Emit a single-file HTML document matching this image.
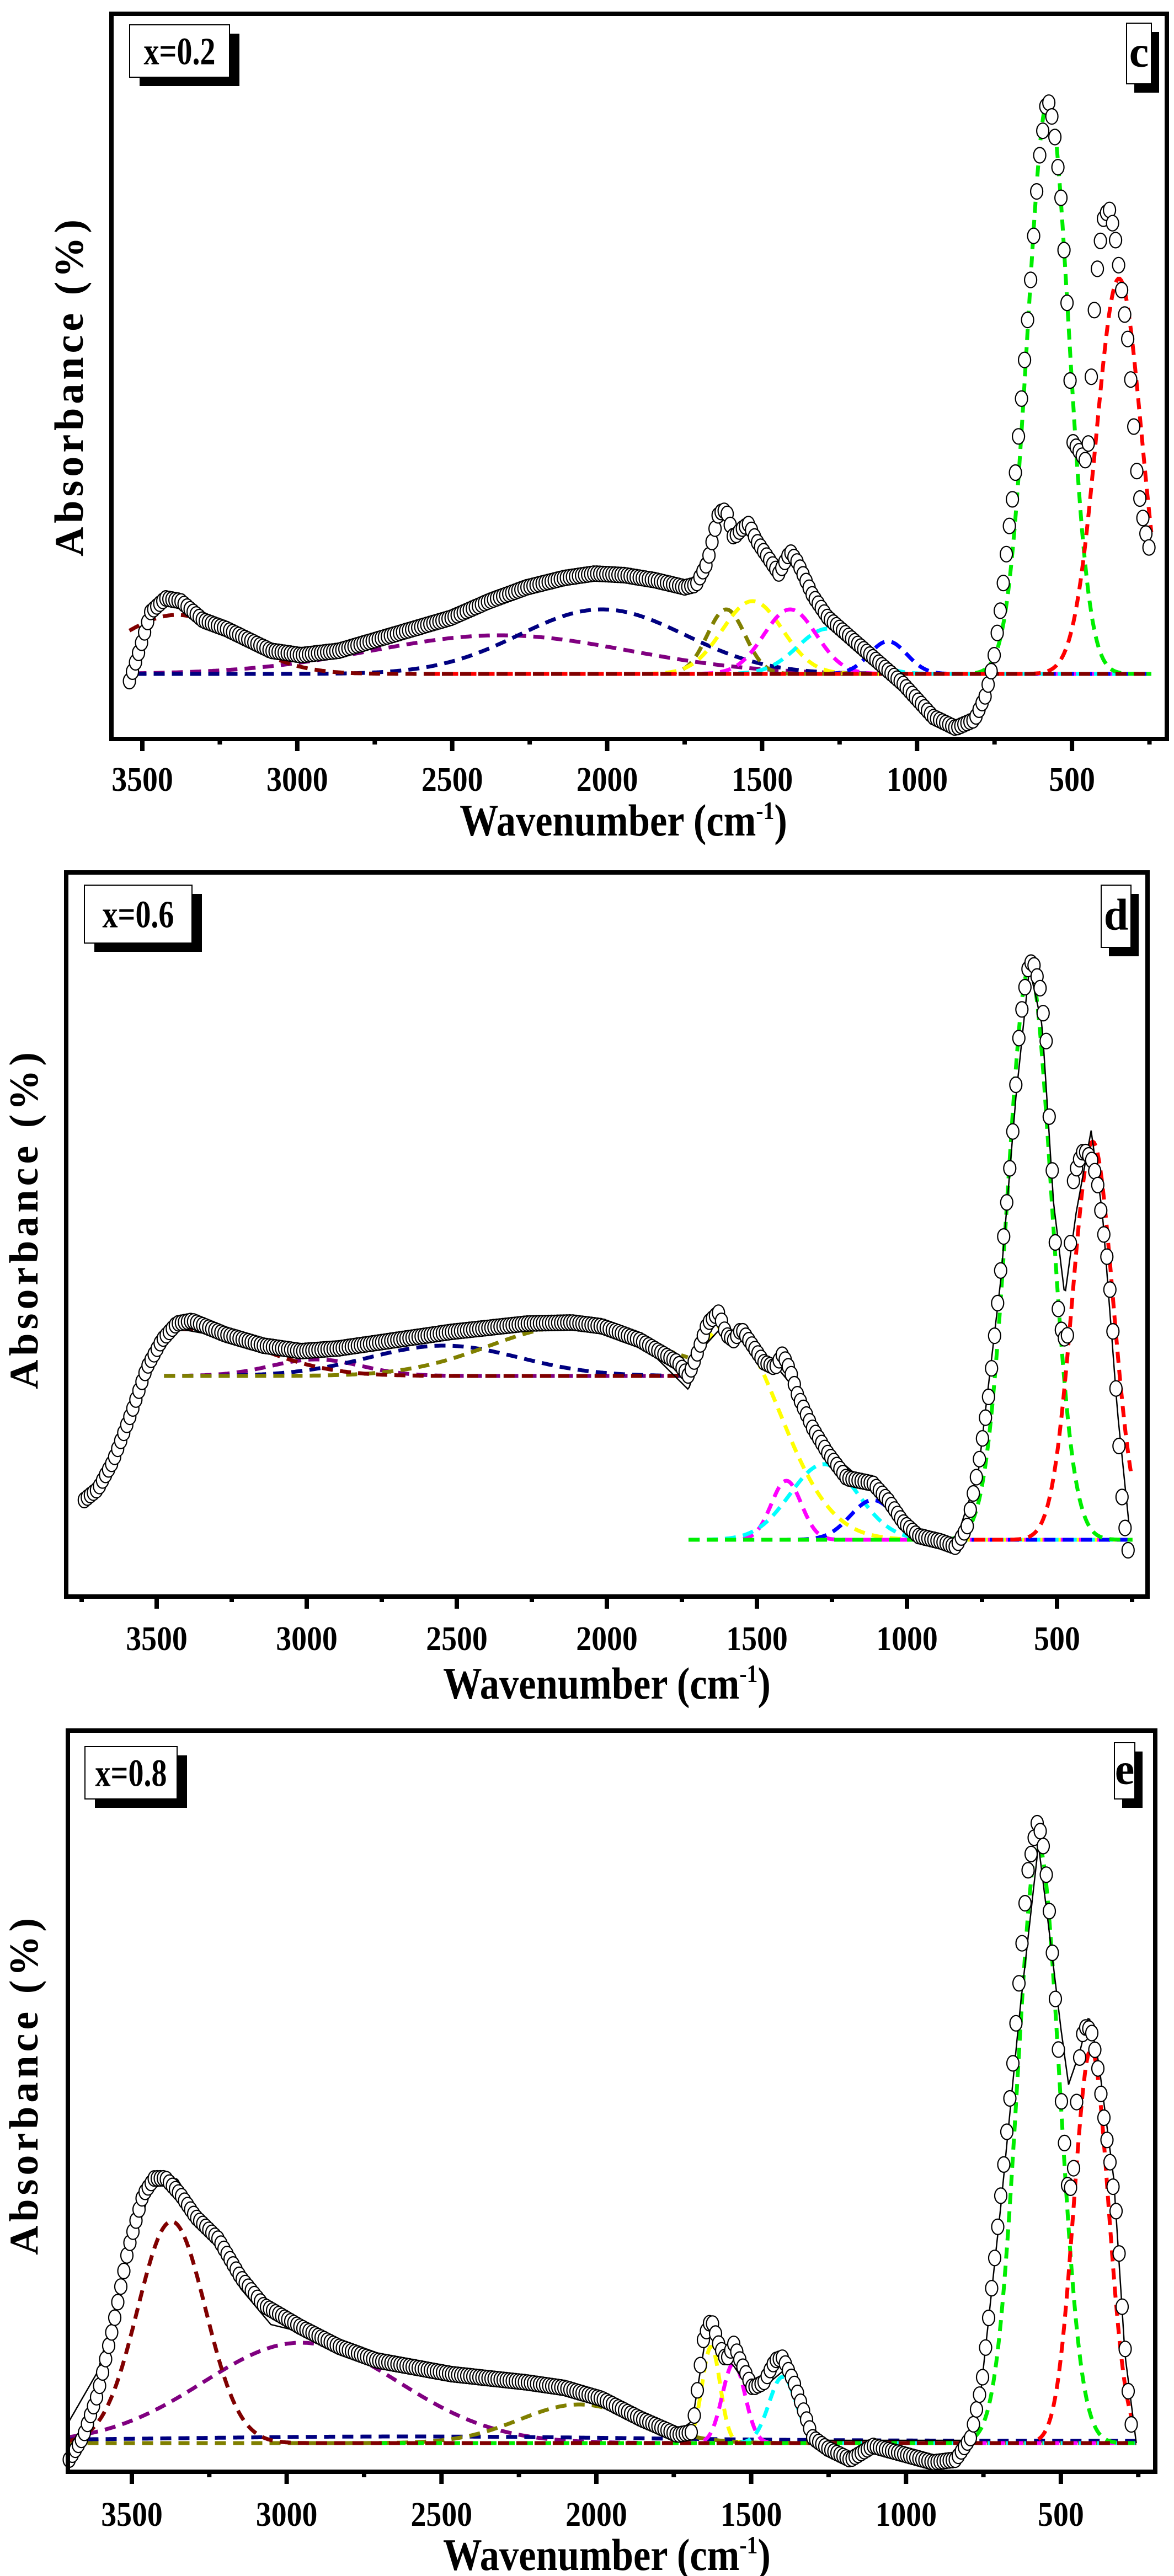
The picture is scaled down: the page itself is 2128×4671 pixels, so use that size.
<!DOCTYPE html>
<html><head><meta charset="utf-8"><style>
html,body{margin:0;padding:0;background:#fff}
svg{display:block}
text{font-family:"Liberation Serif",serif;font-weight:bold}
</style></head><body>
<svg id="s" width="2128" height="4671" viewBox="0 0 2128 4671" xmlns="http://www.w3.org/2000/svg">
<rect width="2128" height="4671" fill="#fff"/>
</svg>
<script>
var S=document.getElementById('s'),NS='http://www.w3.org/2000/svg';
function el(t,a,txt){var e=document.createElementNS(NS,t);for(var k in a)e.setAttribute(k,a[k]);if(txt!=null)e.textContent=txt;S.appendChild(e);return e;}
var KX=1.364;
function interp(pts,x){if(x<=pts[0][0])return pts[0][1];for(var i=1;i<pts.length;i++){if(x<=pts[i][0]){var a=pts[i-1],b=pts[i];var t=(x-a[0])/(b[0]-a[0]);return a[1]+t*(b[1]-a[1]);}}return pts[pts.length-1][1];}
function panel(P){
 var oy=P.oy;
 function X(z){return z*KX;} function Y(z){return z+oy;}
 P.comps.forEach(function(c){
  var d='';for(var zx=c.from;zx<=c.to;zx+=2){var zy=c.base-(c.base-c.peak)*Math.exp(-Math.pow(zx-c.c,2)/(2*c.s*c.s));d+=(d?'L':'M')+X(zx).toFixed(1)+' '+Y(zy).toFixed(1);}
  el('path',{d:d,fill:'none',stroke:c.col,'stroke-width':7,'stroke-dasharray':'20 13'});
 });
 if(P.fit){var d='';var pts=P.fit;for(var zx=pts[0][0];zx<=pts[pts.length-1][0];zx+=2){d+=(d?'L':'M')+X(zx).toFixed(1)+' '+Y(interp(pts,zx)).toFixed(1);}
  el('path',{d:d,fill:'none',stroke:'#000','stroke-width':2.5});}
 var pts=P.data;
 var x0=X(pts[0][0]),x1=X(pts[pts.length-1][0]);
 for(var x=x0;x<=x1;x+=5.5){var y=Y(interp(pts,x/KX));
  el('ellipse',{cx:x.toFixed(1),cy:y.toFixed(1),rx:11,ry:14,fill:'#fff',stroke:'#000','stroke-width':2.2});}
 el('rect',{x:P.fx0,y:P.fy0,width:P.fx1-P.fx0,height:P.fy1-P.fy0,fill:'none',stroke:'#000','stroke-width':8});
 for(var w=3750;w>=250;w-=250){var x=P.x0+(3500-w)*P.k;if(x<P.fx0+5||x>P.fx1-5)continue;var maj=(w%500==0);
  el('line',{x1:x,y1:P.fy1,x2:x,y2:P.fy1+(maj?22:10),stroke:'#000','stroke-width':8});
  if(maj)el('text',{x:x,y:P.ty,'text-anchor':'middle','font-size':62,transform:'translate('+x+' 0) scale(0.9 1) translate('+(-x)+' 0)'},w);}
 var t=el('text',{x:P.xlx,y:P.xly,'text-anchor':'middle','font-size':82,transform:'translate('+P.xlx+' 0) scale(0.86 1) translate('+(-P.xlx)+' 0)'},'Wavenumber (cm');
 var ts=document.createElementNS(NS,'tspan');ts.setAttribute('dy',-30);ts.setAttribute('font-size',46);ts.textContent='-1';t.appendChild(ts);
 var ts2=document.createElementNS(NS,'tspan');ts2.setAttribute('dy',30);ts2.textContent=')';t.appendChild(ts2);
 el('text',{x:0,y:0,'text-anchor':'middle','font-size':74,'letter-spacing':7,transform:'translate('+P.ylx+' '+P.yly+') rotate(-90)'},'Absorbance (%)');
 var L=P.leg;el('rect',{x:L[0]+18,y:L[1]+16,width:L[2]-L[0],height:L[3]-L[1],fill:'#000'});
 el('rect',{x:L[0],y:L[1],width:L[2]-L[0],height:L[3]-L[1],fill:'#fff',stroke:'#000','stroke-width':2});
 var cx=(L[0]+L[2])/2;
 el('text',{x:cx,y:(L[1]+L[3])/2+24,'text-anchor':'middle','font-size':70,transform:'translate('+cx+' 0) scale(0.8 1) translate('+(-cx)+' 0)'},P.lab);
 var M=P.mk;el('rect',{x:M[0]+14,y:M[1]+16,width:M[2]-M[0],height:M[3]-M[1],fill:'#000'});
 el('rect',{x:M[0],y:M[1],width:M[2]-M[0],height:M[3]-M[1],fill:'#fff',stroke:'#000','stroke-width':2});
 el('text',{x:(M[0]+M[2])/2,y:(M[1]+M[3])/2+24,'text-anchor':'middle','font-size':80},P.letter);
}
var MR='#800000',PU='#800080',NV='#000080',OL='#808000',YE='#ffff00',MG='#ff00ff',CY='#00ffff',BL='#0000ff',GR='#00ee00',RD='#ff0000';
panel({oy:0,fx0:202,fy0:25,fx1:2115,fy1:1340,x0:258,k:0.5617,ty:1434,xlx:1130,xly:1515,ylx:150,yly:700,
 leg:[235,45,416,140],lab:'x=0.2',mk:[2042,42,2087,152],letter:'c',
 data:[[172,1235],[185,1180],[200,1110],[220,1085],[240,1090],[270,1125],[300,1140],[330,1160],[360,1180],[400,1188],[450,1180],[500,1160],[600,1120],[650,1090],[700,1065],[750,1048],[790,1040],[830,1043],[870,1052],[910,1065],[925,1060],[940,1020],[955,930],[965,925],[975,975],[985,960],[995,950],[1005,980],[1020,1010],[1035,1040],[1050,1000],[1060,1020],[1080,1080],[1100,1120],[1150,1180],[1200,1240],[1240,1300],[1270,1320],[1295,1305],[1310,1260],[1320,1200],[1330,1100],[1340,970],[1350,850],[1360,680],[1370,500],[1380,300],[1390,190],[1395,185],[1402,250],[1410,360],[1418,550],[1422,690],[1425,800],[1440,830],[1445,840],[1450,690],[1455,540],[1460,460],[1467,390],[1475,380],[1482,430],[1490,520],[1500,630],[1505,740],[1512,880],[1520,950],[1528,1000]],
 comps:[
 {col:PU,c:665,peak:1152,s:170,base:1222,from:180,to:1530},
 {col:NV,c:800,peak:1105,s:110,base:1222,from:180,to:1530},
 {col:OL,c:965,peak:1105,s:25,base:1222,from:570,to:1530},
 {col:YE,c:1000,peak:1090,s:40,base:1222,from:570,to:1530},
 {col:MG,c:1050,peak:1105,s:35,base:1222,from:570,to:1530},
 {col:CY,c:1100,peak:1140,s:40,base:1222,from:570,to:1530},
 {col:BL,c:1180,peak:1163,s:25,base:1222,from:570,to:1530},
 {col:GR,c:1393,peak:180,s:27,base:1222,from:570,to:1530},
 {col:RD,c:1487,peak:505,s:30,base:1222,from:570,to:1530},
 {col:MR,c:235,peak:1115,s:80,base:1222,from:172,to:1530}]});
panel({oy:1560,fx0:120,fy0:1582,fx1:2080,fy1:2895,x0:284,k:0.544,ty:2992,xlx:1100,xly:3080,ylx:68,yly:2210,
 leg:[153,1605,348,1710],lab:'x=0.6',mk:[1996,1605,2050,1718],letter:'d',
 data:[[112,1160],[130,1140],[150,1090],[175,1000],[195,920],[215,870],[235,840],[255,835],[300,860],[350,880],[400,890],[450,885],[500,875],[600,855],[700,840],[760,838],[800,845],[850,870],[900,910],[915,935],[925,900],[940,840],[955,820],[965,860],[975,870],[985,850],[1000,880],[1015,910],[1030,920],[1040,895],[1050,925],[1060,970],[1080,1030],[1100,1075],[1125,1120],[1160,1130],[1180,1160],[1200,1200],[1220,1225],[1250,1235],[1270,1245],[1285,1210],[1300,1100],[1315,960],[1330,740],[1345,510],[1355,300],[1365,200],[1372,180],[1382,230],[1390,320],[1395,490],[1400,600],[1405,800],[1410,850],[1418,880],[1425,590],[1432,550],[1440,525],[1450,540],[1458,580],[1465,660],[1472,730],[1478,830],[1485,1010],[1490,1140],[1495,1210],[1500,1260]],
 fit:[[220,870],[240,850],[300,865],[400,888],[500,875],[700,842],[760,840],[850,872],[915,960],[930,890],[960,845],[990,870],[1030,915],[1060,965],[1100,1070],[1160,1140],[1220,1225],[1270,1235],[1300,1110],[1330,760],[1350,430],[1368,195],[1385,300],[1400,620],[1415,790],[1430,640],[1450,490],[1465,640],[1485,1000],[1500,1200]],
 comps:[
 {col:PU,c:420,peak:905,s:60,base:935,from:218,to:915},
 {col:NV,c:590,peak:880,s:100,base:935,from:218,to:915},
 {col:OL,c:760,peak:845,s:110,base:935,from:218,to:915},
 {col:MR,c:240,peak:850,s:100,base:935,from:218,to:915},
 {col:YE,c:965,peak:845,s:70,base:1232,from:915,to:1505},
 {col:MG,c:1045,peak:1125,s:20,base:1232,from:915,to:1505},
 {col:CY,c:1095,peak:1095,s:45,base:1232,from:915,to:1505},
 {col:BL,c:1160,peak:1160,s:30,base:1232,from:915,to:1505},
 {col:GR,c:1368,peak:195,s:29,base:1232,from:915,to:1505},
 {col:RD,c:1452,peak:510,s:27,base:1232,from:1270,to:1505}]});
panel({oy:3120,fx0:123,fy0:3138,fx1:2094,fy1:4482,x0:239,k:0.5613,ty:4580,xlx:1100,xly:4660,ylx:68,yly:3780,
 leg:[154,3167,321,3262],lab:'x=0.8',mk:[2020,3160,2057,3262],letter:'e',
 data:[[92,1340],[110,1300],[130,1220],[150,1100],[170,960],[190,860],[205,830],[220,830],[240,860],[260,900],[290,940],[320,1010],[350,1060],[400,1100],[450,1135],[500,1160],[600,1185],[700,1200],[750,1210],[800,1230],[850,1265],[900,1295],[920,1290],[935,1120],[945,1085],[955,1130],[965,1160],[975,1130],[985,1165],[1000,1210],[1015,1200],[1030,1160],[1040,1155],[1055,1200],[1080,1300],[1100,1320],[1130,1340],[1160,1315],[1200,1330],[1240,1345],[1270,1340],[1290,1300],[1305,1200],[1320,1000],[1335,790],[1345,640],[1355,460],[1365,280],[1378,185],[1385,210],[1392,300],[1400,450],[1405,560],[1410,680],[1418,830],[1420,870],[1428,800],[1432,640],[1440,555],[1450,560],[1458,620],[1465,700],[1475,800],[1485,910],[1490,1040],[1495,1135],[1500,1230],[1505,1300]],
 fit:[[92,1270],[130,1180],[170,980],[200,850],[235,830],[270,910],[320,1030],[360,1095],[420,1115],[480,1140],[520,1160],[600,1185],[700,1205],[800,1230],[900,1290],[920,1270],[940,1100],[960,1150],[975,1170],[990,1200],[1005,1220],[1040,1180],[1060,1220],[1090,1305],[1280,1305],[1300,1260],[1330,880],[1355,530],[1380,225],[1395,390],[1410,560],[1420,660],[1435,600],[1447,535],[1460,620],[1480,830],[1495,1150],[1510,1310]],
 comps:[
 {col:PU,c:400,peak:1128,s:130,base:1310,from:92,to:1510},
 {col:NV,c:540,peak:1298,s:300,base:1306,from:92,to:1510},
 {col:OL,c:770,peak:1240,s:80,base:1310,from:92,to:1510},
 {col:YE,c:945,peak:1135,s:12,base:1310,from:500,to:1510},
 {col:MG,c:975,peak:1165,s:15,base:1310,from:500,to:1510},
 {col:CY,c:1040,peak:1190,s:18,base:1310,from:500,to:1510},
 {col:GR,c:1380,peak:225,s:28,base:1310,from:500,to:1510},
 {col:RD,c:1450,peak:595,s:23,base:1310,from:1380,to:1510},
 {col:MR,c:228,peak:908,s:45,base:1310,from:92,to:1510}]});
</script>
</body></html>
